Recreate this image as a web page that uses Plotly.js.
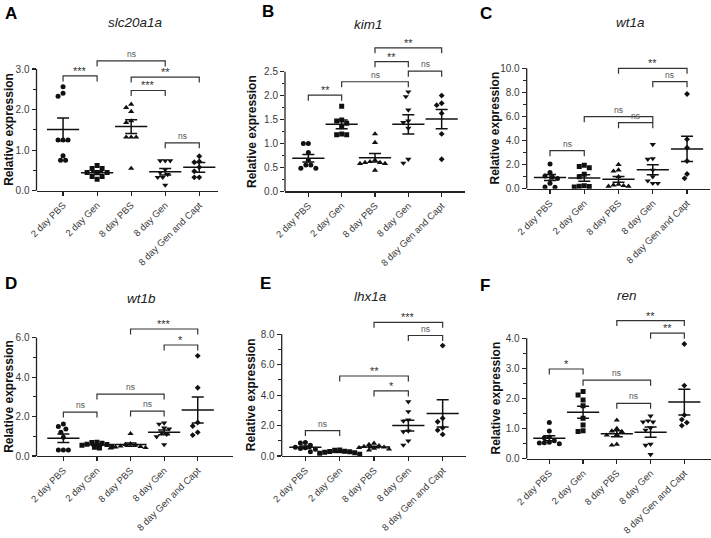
<!DOCTYPE html>
<html><head><meta charset="utf-8">
<script src="https://cdn.plot.ly/plotly-3.0.1.min.js"></script>
<style>html,body{margin:0;padding:0;background:#fff}#chart{width:711px;height:538px}</style>
</head><body><div id="chart"></div>
<script>
// ---------- data ----------
const categories = ['2 day PBS', '2 day Gen', '8 day PBS', '8 day Gen', '8 day Gen and Capt'];

// A: slc20a1a
const slc20a1a = [
  [2.56, 2.40, 2.33, 1.25, 1.25, 1.25, 0.86, 0.75, 0.75],
  [0.62, 0.55, 0.55, 0.45, 0.45, 0.45, 0.35, 0.35, 0.28],
  [2.13, 2.05, 1.95, 1.72, 1.68, 1.32, 1.32, 1.32, 0.55],
  [0.74, 0.74, 0.74, 0.52, 0.45, 0.40, 0.33, 0.33, 0.14],
  [0.85, 0.72, 0.70, 0.58, 0.48, 0.33, 0.33]
];
const slc20a1aMean = [1.51, 0.44, 1.58, 0.47, 0.575];
const slc20a1aSem = [0.28, 0.04, 0.17, 0.08, 0.12];
const slc20a1aBrackets = [[0, 1, 2.83, '***'], [1, 3, 3.20, 'ns'], [2, 4, 2.80, '**'], [2, 3, 2.47, '***'], [3, 4, 1.18, 'ns']];

// B: kim1
const kim1 = [
  [1.00, 1.00, 0.81, 0.65, 0.55, 0.55, 0.48, 0.48],
  [1.78, 1.49, 1.47, 1.42, 1.35, 1.20, 1.18, 1.18],
  [1.20, 1.02, 0.65, 0.62, 0.60, 0.60, 0.58, 0.58, 0.44],
  [2.08, 1.98, 1.70, 1.47, 1.44, 1.32, 0.67, 0.59],
  [2.00, 1.84, 1.80, 1.63, 1.20, 0.67]
];
const kim1Mean = [0.69, 1.40, 0.70, 1.40, 1.51];
const kim1Sem = [0.08, 0.09, 0.09, 0.20, 0.20];
const kim1Brackets = [[0, 1, 2.01, '**'], [1, 3, 2.29, 'ns'], [3, 4, 2.51, 'ns'], [2, 3, 2.71, '**'], [2, 4, 3.00, '**']];

// C: wt1a
const wt1a = [
  [2.05, 1.35, 1.05, 0.95, 0.85, 0.45, 0.15, 0.12],
  [1.95, 1.85, 1.75, 1.20, 1.00, 0.25, 0.20, 0.18, 0.15],
  [2.00, 1.55, 1.45, 1.00, 0.35, 0.30, 0.25, 0.20, 0.20],
  [3.68, 2.50, 2.45, 1.55, 1.00, 0.65, 0.45, 0.45],
  [7.87, 4.10, 3.40, 2.30, 1.22, 0.86]
];
const wt1aMean = [0.93, 0.88, 0.78, 1.57, 3.30];
const wt1aSem = [0.25, 0.27, 0.24, 0.42, 1.05];
const wt1aBrackets = [[0, 1, 3.16, 'ns'], [2, 3, 5.48, 'ns'], [1, 3, 5.98, 'ns'], [3, 4, 8.89, 'ns'], [2, 4, 10.0, '**']];

// D: wt1b
const wt1b = [
  [1.62, 1.50, 1.37, 1.20, 0.95, 0.30, 0.30, 0.30],
  [0.70, 0.68, 0.65, 0.60, 0.58, 0.55, 0.50, 0.45, 0.40],
  [1.13, 0.62, 0.58, 0.55, 0.50, 0.48, 0.45, 0.42, 0.40],
  [1.68, 1.62, 1.42, 1.38, 1.18, 1.10, 0.98, 0.58],
  [5.08, 3.46, 1.70, 1.52, 1.20, 1.06]
];
const wt1bMean = [0.90, 0.57, 0.58, 1.20, 2.33];
const wt1bSem = [0.22, 0.04, 0.08, 0.12, 0.66];
const wt1bBrackets = [[0, 1, 2.23, 'ns'], [2, 3, 2.28, 'ns'], [1, 3, 3.14, 'ns'], [3, 4, 5.63, '*'], [2, 4, 6.44, '***']];

// E: lhx1a
const lhx1a = [
  [0.88, 0.85, 0.70, 0.58, 0.55, 0.50, 0.45, 0.28],
  [0.40, 0.38, 0.32, 0.30, 0.28, 0.25, 0.22, 0.18, 0.12],
  [0.83, 0.75, 0.68, 0.62, 0.58, 0.55, 0.50, 0.45, 0.38],
  [3.57, 2.92, 2.37, 2.30, 1.65, 1.60, 1.00, 0.72],
  [7.26, 2.48, 2.25, 1.85, 1.70, 1.42]
];
const lhx1aMean = [0.57, 0.27, 0.59, 2.00, 2.80];
const lhx1aSem = [0.08, 0.04, 0.05, 0.35, 0.90];
const lhx1aBrackets = [[0, 1, 1.67, 'ns'], [2, 3, 4.28, '*'], [1, 3, 5.26, '**'], [3, 4, 7.92, 'ns'], [2, 4, 8.79, '***']];

// F: ren
const ren = [
  [1.20, 0.92, 0.72, 0.70, 0.60, 0.55, 0.53, 0.52, 0.50],
  [2.23, 2.12, 1.95, 1.76, 1.34, 1.12, 0.93, 0.90],
  [1.28, 1.00, 0.92, 0.90, 0.80, 0.78, 0.48, 0.45],
  [1.42, 1.26, 1.22, 1.22, 1.02, 0.95, 0.48, 0.45, 0.14],
  [3.81, 2.43, 1.45, 1.30, 1.20, 1.10]
];
const renMean = [0.68, 1.54, 0.83, 0.88, 1.88];
const renSem = [0.08, 0.20, 0.10, 0.17, 0.43];
const renBrackets = [[0, 1, 2.98, '*'], [1, 3, 2.61, 'ns'], [2, 3, 1.84, 'ns'], [3, 4, 4.17, '**'], [2, 4, 4.59, '**']];

// tick values / labels
const ticksA = [0, 1, 2, 3], minorA = [0.5, 1.5, 2.5];
const ticksB = [0, 0.5, 1, 1.5, 2, 2.5], minorB = [0.25, 0.75, 1.25, 1.75, 2.25];
const ticksC = [0, 2, 4, 6, 8, 10], minorC = [1, 3, 5, 7, 9];
const ticksD = [0, 2, 4, 6], minorD = [1, 3, 5];
const ticksE = [0, 2, 4, 6, 8], minorE = [1, 3, 5, 7];
const ticksF = [0, 1, 2, 3, 4], minorF = [0.5, 1.5, 2.5, 3.5];

// ---------- layout geometry (pixels) ----------
const W = 711, H = 538;
const FONT = 'Liberation Sans, Arial, sans-serif';
const panels = [
  {letter: 'A', gene: 'slc20a1a', g: slc20a1a, m: slc20a1aMean, s: slc20a1aSem, b: slc20a1aBrackets, tv: ticksA, mv: minorA,
   L: 36.5, R: 218, y0: 190.7, yTopPx: 69, yMax: 3, T: 30, xmin: -0.78, xmax: 4.55, ytx: 9, tx: 135, ty: 23, lx: 3, ly: 14},
  {letter: 'B', gene: 'kim1', g: kim1, m: kim1Mean, s: kim1Sem, b: kim1Brackets, tv: ticksB, mv: minorB,
   L: 285, R: 465, y0: 191.3, yTopPx: 71.7, yMax: 2.5, T: 30, xmin: -0.70, xmax: 4.70, ytx: 251.5, tx: 368.5, ty: 25, lx: 260, ly: 12},
  {letter: 'C', gene: 'wt1a', g: wt1a, m: wt1aMean, s: wt1aSem, b: wt1aBrackets, tv: ticksC, mv: minorC,
   L: 526.7, R: 710, y0: 188.7, yTopPx: 68.3, yMax: 10, T: 30, xmin: -0.68, xmax: 4.67, ytx: 495, tx: 630, ty: 23, lx: 478, ly: 13},
  {letter: 'D', gene: 'wt1b', g: wt1b, m: wt1bMean, s: wt1bSem, b: wt1bBrackets, tv: ticksD, mv: minorD,
   L: 36.5, R: 233, y0: 456, yTopPx: 337.7, yMax: 6, T: 305, xmin: -0.80, xmax: 5.05, ytx: 9, tx: 141.5, ty: 298, lx: 3, ly: 284},
  {letter: 'E', gene: 'lhx1a', g: lhx1a, m: lhx1aMean, s: lhx1aSem, b: lhx1aBrackets, tv: ticksE, mv: minorE,
   L: 281.7, R: 466, y0: 456, yTopPx: 334.3, yMax: 8, T: 305, xmin: -0.69, xmax: 4.68, ytx: 251, tx: 370, ty: 296, lx: 258, ly: 284},
  {letter: 'F', gene: 'ren', g: ren, m: renMean, s: renSem, b: renBrackets, tv: ticksF, mv: minorF,
   L: 526.7, R: 711, y0: 458.7, yTopPx: 338.3, yMax: 4, T: 305, xmin: -0.67, xmax: 4.79, ytx: 495, tx: 627, ty: 295, lx: 478, ly: 285}
];
const symbols = ['circle', 'square', 'triangle-up', 'triangle-down', 'diamond'];
const symSizes = [5, 5, 5.5, 5.5, 4.5];
const INK = '#111';

function swarm(vals, pxY, pxX) {
  const step = 5, dmin = 5;
  const order = vals.map((v, i) => i).sort((a, b) => vals[b] - vals[a]);
  const cands = [0];
  for (let k = 1; k < 16; k++) { cands.push(-k * step / 2, k * step / 2); }
  const placed = [], off = new Array(vals.length).fill(0);
  for (const i of order) {
    const py = vals[i] * pxY;
    for (const c of cands) {
      if (placed.every(p => Math.hypot(p[0] - c, p[1] - py) >= dmin)) {
        placed.push([c, py]); off[i] = c / pxX; break;
      }
    }
  }
  return off;
}

const data = [], shapes = [], annotations = [];
const layout = {
  width: W, height: H, margin: {l: 0, r: 0, t: 0, b: 0},
  paper_bgcolor: '#fff', plot_bgcolor: 'rgba(0,0,0,0)', showlegend: false,
  font: {family: FONT, color: '#333'}
};

panels.forEach((p, k) => {
  const n = k === 0 ? '' : String(k + 1);
  const xa = 'x' + n, ya = 'y' + n;
  const pxY = (p.y0 - p.yTopPx) / p.yMax;
  const pxX = (p.R - p.L) / (p.xmax - p.xmin);
  const yTopVal = (p.y0 - p.T) / pxY;

  layout['xaxis' + n] = {
    domain: [p.L / W, p.R / W], anchor: ya, range: [p.xmin, p.xmax],
    showgrid: false, zeroline: false, showline: true, linecolor: '#222', linewidth: 1.3,
    ticks: 'outside', ticklen: 4, tickwidth: 1.2, tickcolor: '#222',
    tickmode: 'array', tickvals: categories.map((c, i) => i), ticktext: categories,
    tickangle: -45, tickfont: {family: FONT, size: 9.5, color: '#3a3a3a'}
  };
  layout['yaxis' + n] = {
    domain: [(H - p.y0) / H, (H - p.T) / H], anchor: xa, range: [0, yTopVal],
    showgrid: false, zeroline: false, showline: false,
    ticks: 'outside', ticklen: 4, tickwidth: 1.2, tickcolor: '#222',
    tickmode: 'array', tickvals: p.tv, tickformat: '.1f',
    tickfont: {family: FONT, size: 10, color: '#3a3a3a'},
    minor: {tickvals: p.mv, ticks: 'outside', ticklen: 2.5, tickwidth: 1, tickcolor: '#222'}
  };
  // y axis line up to the top tick
  shapes.push({type: 'line', xref: xa + ' domain', yref: ya, x0: 0, x1: 0, y0: 0, y1: p.yMax,
    line: {color: '#222', width: 1.3}});

  // points
  p.g.forEach((vals, gi) => {
    const off = swarm(vals, pxY, pxX);
    data.push({
      type: 'scatter', mode: 'markers', xaxis: xa, yaxis: ya,
      x: vals.map((v, i) => gi + off[i]), y: vals,
      marker: {symbol: symbols[gi], size: symSizes[gi], color: INK, line: {width: 0}},
      hoverinfo: 'skip'
    });
  });
  // mean +- SEM
  data.push({
    type: 'scatter', mode: 'markers', xaxis: xa, yaxis: ya,
    x: p.m.map((v, i) => i), y: p.m,
    marker: {symbol: 'line-ew', size: 23, color: INK, line: {width: 1.5, color: INK}},
    error_y: {type: 'data', array: p.s, visible: true, color: INK, thickness: 1.5, width: 6},
    hoverinfo: 'skip'
  });
  // significance brackets
  const tip = 5.5 / pxY;
  p.b.forEach(([i, j, yv, lab]) => {
    shapes.push({type: 'path', xref: xa, yref: ya,
      path: `M ${i},${yv - tip} L ${i},${yv} L ${j},${yv} L ${j},${yv - tip}`,
      line: {color: '#333', width: 1.2}});
    const isNs = lab === 'ns';
    annotations.push({xref: xa, yref: ya, x: (i + j) / 2, y: yv, text: lab, showarrow: false,
      xanchor: 'center', yanchor: 'bottom', yshift: isNs ? 0 : -3,
      font: {family: FONT, size: isNs ? 8.5 : 11, color: isNs ? '#555' : '#333'}});
  });
  // panel letter
  annotations.push({xref: 'paper', yref: 'paper', x: p.lx / W, y: (H - p.ly) / H, text: '<b>' + p.letter + '</b>',
    showarrow: false, xanchor: 'left', yanchor: 'middle', font: {family: FONT, size: 17, color: '#000'}});
  // gene title
  annotations.push({xref: 'paper', yref: 'paper', x: p.tx / W, y: (H - p.ty) / H, text: '<i>' + p.gene + '</i>',
    showarrow: false, xanchor: 'center', yanchor: 'middle', font: {family: FONT, size: 13.5, color: '#222'}});
  // y axis title
  annotations.push({xref: 'paper', yref: 'paper', x: p.ytx / W, y: (H - (p.y0 + p.yTopPx) / 2) / H,
    text: '<b>Relative expression</b>', textangle: -90, showarrow: false, xanchor: 'center', yanchor: 'middle',
    font: {family: FONT, size: 12, color: '#111'}});
});
layout.shapes = shapes;
layout.annotations = annotations;

Plotly.newPlot('chart', data, layout, {staticPlot: true, displayModeBar: false});
</script></body></html>
